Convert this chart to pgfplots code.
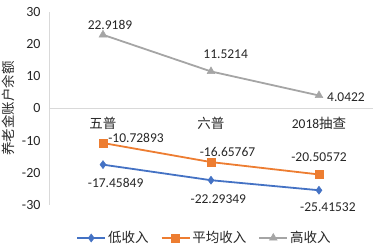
\documentclass[border=0pt]{standalone}
\usepackage{pgfplots}
\pgfplotsset{compat=1.18}
\usepackage{fontspec}
\setmainfont{Carlito}
\newfontfamily\cjk{Noto Sans CJK SC}
\definecolor{cblue}{HTML}{4472C4}
\definecolor{corange}{HTML}{ED7D31}
\definecolor{cgray}{HTML}{A5A5A5}
\definecolor{axgray}{HTML}{D9D9D9}
\begin{document}
\begin{tikzpicture}[x=1pt,y=1pt]
\begin{axis}[
  scale only axis,
  width=324pt, height=193pt,
  xmin=-0.5, xmax=2.5,
  ymin=-30, ymax=30,
  axis x line=none,
  axis y line=left,
  axis line style={-, axgray, line width=0.8pt},
  xtick={0,1,2},
  major tick length=0pt,
  ytick={-30,-20,...,30},
  yticklabel style={font=\fontsize{14}{15}\selectfont, text=black!85, xshift=-5pt},
  /pgf/number format/assume math mode=true,
  ylabel={\cjk 养老金账户余额},
  ylabel style={font=\fontsize{13.5}{15}\selectfont, text=black!85},
  legend style={at={(0.48,-0.171)}, anchor=center, draw=none, legend columns=3,
    font=\fontsize{13.5}{15}\selectfont\cjk, text=black!85,
    /tikz/every even column/.append style={column sep=10pt}},
  legend image code/.code={
    \draw[#1, mark repeat=2, mark phase=2] plot coordinates {(0pt,0pt) (14pt,0pt) (28pt,0pt)};
  },
  clip=false,
]
\draw[axgray, line width=0.8pt] (axis cs:-0.5,0) -- (axis cs:2.5,0);
\node[font=\fontsize{13.5}{15}\selectfont, text=black!85] at (axis cs:0,-4.5) {\cjk 五普};
\node[font=\fontsize{13.5}{15}\selectfont, text=black!85] at (axis cs:1,-4.5) {\cjk 六普};
\node[font=\fontsize{13.5}{15}\selectfont, text=black!85] at (axis cs:2,-4.5) {2018\cjk 抽查};
\addplot[cblue, line width=1.8pt, mark=diamond*, mark size=4pt, mark options={fill=cblue, draw=cblue, line width=0.5pt}]
  coordinates {(0,-17.45849) (1,-22.29349) (2,-25.41532)};
\addlegendentry{低收入}
\addplot[corange, line width=1.8pt, mark=square*, mark size=3.8pt, mark options={fill=corange, draw=corange, line width=0.5pt}]
  coordinates {(0,-10.72893) (1,-16.65767) (2,-20.50572)};
\addlegendentry{平均收入}
\addplot[cgray, line width=1.8pt, mark=triangle*, mark size=4.5pt, mark options={fill=cgray, draw=cgray, line width=0.5pt}]
  coordinates {(0,22.9189) (1,11.5214) (2,4.0422)};
\addlegendentry{高收入}
\begin{scope}[every node/.style={font=\fontsize{13.5}{15}\selectfont, text=black!85, inner sep=0pt}]
\node at (axis cs:0.065,25.96) {22.9189};
\node at (axis cs:1.136,16.85) {11.5214};
\node at (axis cs:2.25,3.67) {4.0422};
\node at (axis cs:0.306,-9.27) {-10.72893};
\node at (axis cs:1.153,-13.43) {-16.65767};
\node at (axis cs:2.0,-14.98) {-20.50572};
\node at (axis cs:0.117,-23.27) {-17.45849};
\node at (axis cs:1.068,-28.14) {-22.29349};
\node at (axis cs:2.083,-30.53) {-25.41532};
\end{scope}
\end{axis}
\pgfresetboundingbox
\path[use as bounding box] ([shift={(-49pt,-43pt)}]current axis.south west) rectangle ++(378pt,248pt);
\end{tikzpicture}
\end{document}
